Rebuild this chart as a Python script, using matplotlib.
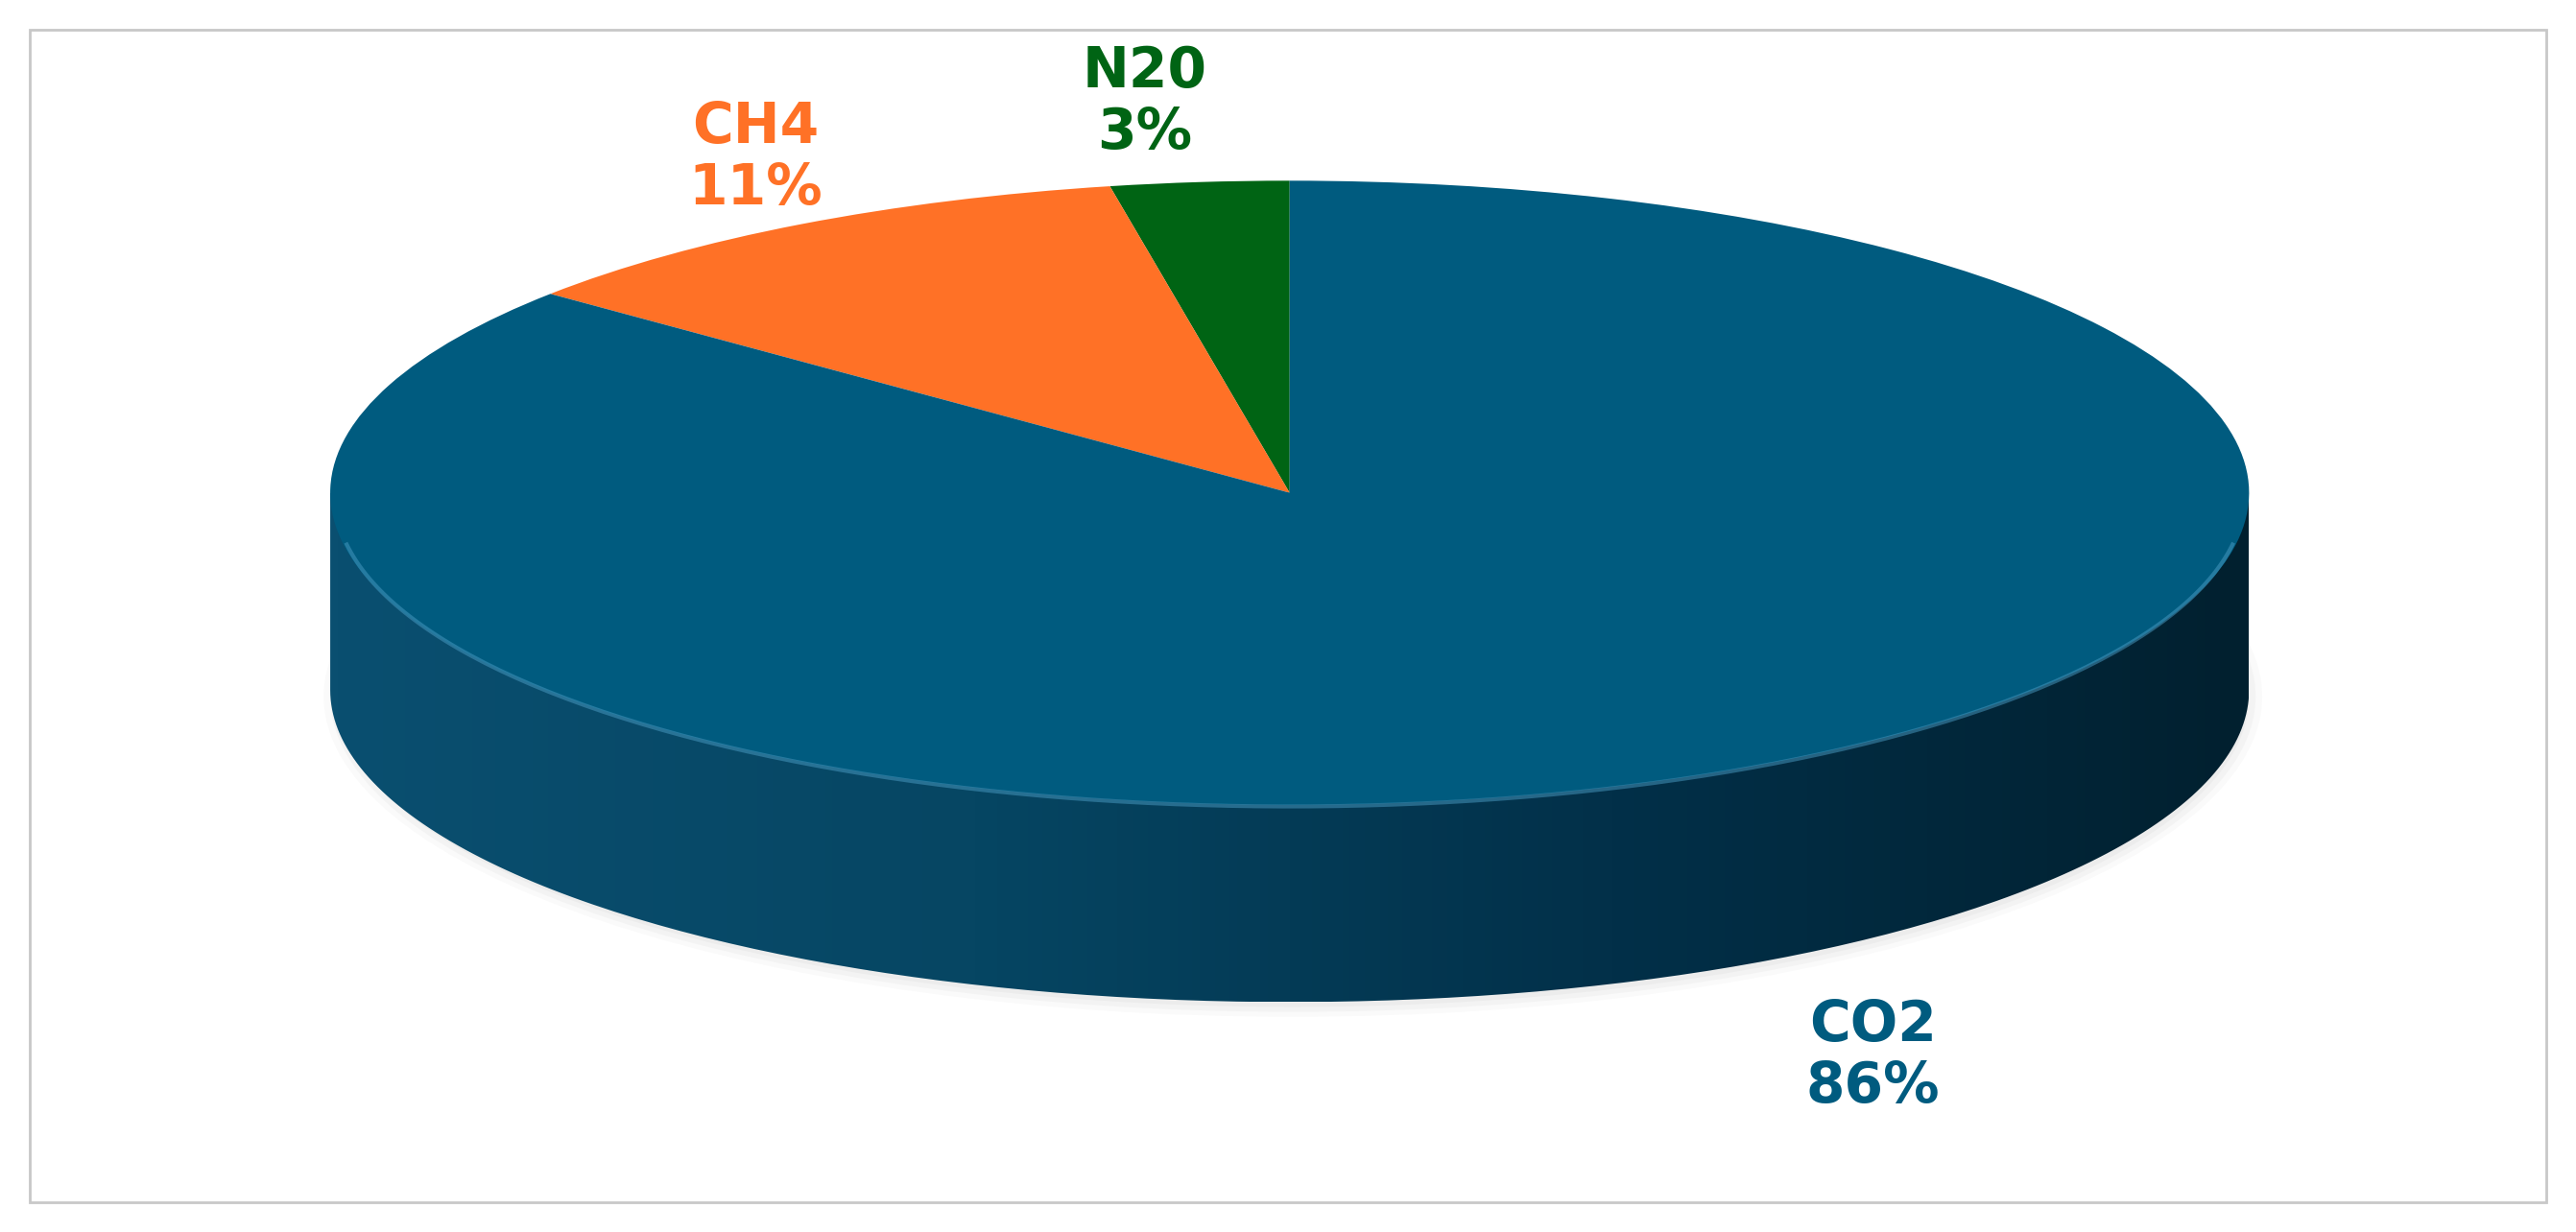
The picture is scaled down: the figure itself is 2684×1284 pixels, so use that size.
import numpy as np
import matplotlib.pyplot as plt
from matplotlib.path import Path
from matplotlib.patches import PathPatch, Ellipse, Rectangle
from matplotlib.colors import LinearSegmentedColormap

# data
gases = ['N20', 'CH4', 'CO2']
shares = [3, 11, 86]
colors = ['#006414', '#FF7126', '#005B7F']

fig = plt.figure(figsize=(26.84, 12.84), dpi=100)

# background axes in reference pixel coords
ax0 = fig.add_axes([0, 0, 1, 1])
ax0.set_xlim(0, 1568)
ax0.set_ylim(750, 0)
ax0.axis('off')
ax0.add_patch(Rectangle((18, 18), 1532, 714, fill=False, edgecolor='#c8c8c8', lw=2))
# soft shadow under the disc
for i, a in enumerate([0.04, 0.05, 0.06]):
    ax0.add_patch(Ellipse((787, 424), 1180 - 8 * i, 390 - 6 * i,
                          color='#808080', alpha=a, lw=0))

# pie axes, circle squashed into an ellipse
d = 120 / 190
ax = fig.add_axes([201 / 1568, 1 - 610 / 750, 1168 / 1568, 500 / 750])

# rim (side of the disc) with horizontal gradient
t = np.linspace(np.pi, 2 * np.pi, 200)
verts = [(-1, 0)] + list(zip(np.cos(t), np.sin(t) - d)) + [(1, 0), (-1, 0)]
rim = PathPatch(Path(verts), facecolor='none', edgecolor='none')
ax.add_patch(rim)
grad = np.linspace(0, 1, 256).reshape(1, -1)
cmap = LinearSegmentedColormap.from_list('rim', ['#0a4f70', '#064663', '#023049', '#01202f'])
im = ax.imshow(grad, cmap=cmap, extent=(-1, 1, -1 - d, 0), aspect='auto', zorder=1)
im.set_clip_path(rim)

ax.pie(shares, colors=colors, startangle=90, counterclock=True, radius=1,
       wedgeprops=dict(linewidth=0), frame=True)
tt = np.linspace(np.pi * 1.05, np.pi * 1.95, 200)
ax.plot(np.cos(tt) * 0.995, np.sin(tt) * 0.995 - 0.01, color='#4a9cc4', lw=3, alpha=0.5, zorder=5)
ax.set_aspect('auto')
ax.set_xlim(-1, 1)
ax.set_ylim(-1 - d, 1)
ax.axis('off')

# labels
lab_pos = {'N20': (697, 62), 'CH4': (460, 96), 'CO2': (1140, 643)}
for g, s, c in zip(gases, shares, colors):
    x, y = lab_pos[g]
    ax0.text(x, y, f'{g}\n{s}%', color=c, fontsize=42, fontweight='bold',
             ha='center', va='center', linespacing=1.15, zorder=10)

fig.savefig('out.png', dpi=100)
